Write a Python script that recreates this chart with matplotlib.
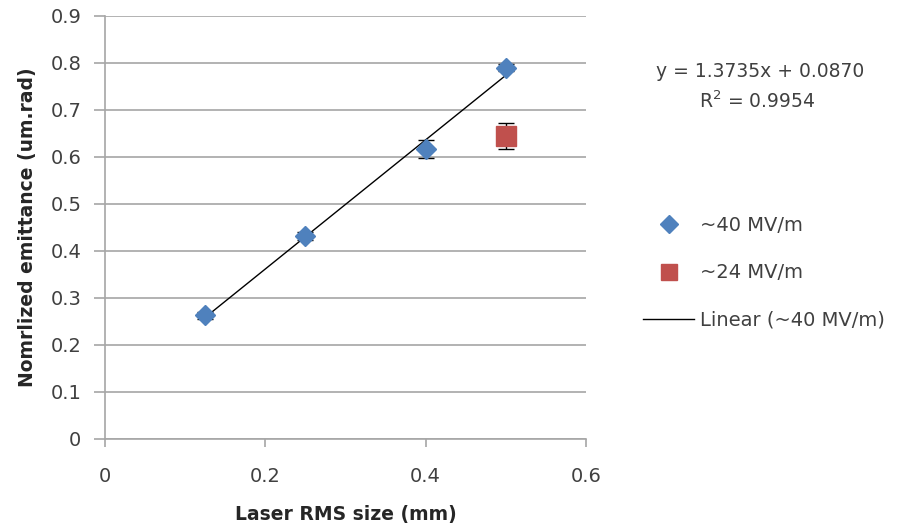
import numpy as np
import matplotlib.pyplot as plt
from matplotlib.lines import Line2D

plt.rcParams['font.family'] = ['DejaVu Sans']

# Laser RMS size (mm) vs normalized emittance (um.rad)
size_40 = [0.125, 0.25, 0.4, 0.5]
emit_40 = [0.263, 0.432, 0.617, 0.790]
err_40 = [0.008, 0.008, 0.020, 0.008]

size_24 = [0.5]
emit_24 = [0.645]
err_24 = [0.028]

slope = 1.3735
intercept = 0.0870
r2 = 0.9954

fig = plt.figure(figsize=(9.07, 5.31), dpi=100)
ax = fig.add_axes([0.1158, 0.1733, 0.5303, 0.7967])

grid_c = '#a6a6a6'
ax.set_xlim(0, 0.6)
ax.set_ylim(0, 0.9)
ax.set_xticks(np.arange(0, 0.61, 0.2))
ax.set_xticklabels(['0', '0.2', '0.4', '0.6'])
ax.set_yticks(np.arange(0, 0.91, 0.1))
ax.set_yticklabels(['0'] + ['%.1f' % v for v in np.arange(0.1, 0.91, 0.1)])
ax.yaxis.grid(True, color=grid_c, lw=1.2)
ax.set_axisbelow(True)
for s in ['top', 'right']:
    ax.spines[s].set_visible(False)
for s in ['left', 'bottom']:
    ax.spines[s].set_color(grid_c)
    ax.spines[s].set_linewidth(1.2)
ax.tick_params(colors=grid_c, width=1.2, labelsize=14, labelcolor='#404040')
ax.tick_params(axis='y', length=8, pad=9)
ax.tick_params(axis='x', length=6, pad=14)

ax.set_xlabel('Laser RMS size (mm)', fontsize=13.5, fontweight='bold',
              color='#262626', labelpad=14)
ax.set_ylabel('Nomrlized emittance (um.rad)', fontsize=13.5, fontweight='bold',
              color='#262626', labelpad=10)

# linear trendline across the ~40 MV/m points
xf = np.array([min(size_40), max(size_40)])
ax.plot(xf, slope * xf + intercept, color='black', lw=1, zorder=2)

ax.errorbar(size_40, emit_40, yerr=err_40, fmt='none', ecolor='black',
            elinewidth=1, capsize=6, capthick=1, zorder=3)
ax.plot(size_40, emit_40, 'D', color='#4f81bd', markersize=10, zorder=4)
ax.errorbar(size_24, emit_24, yerr=err_24, fmt='none', ecolor='black',
            elinewidth=1, capsize=6, capthick=1, zorder=3)
ax.plot(size_24, emit_24, 's', color='#c0504d', markersize=14, zorder=4)

fig.text(0.838, 0.865, 'y = %.4fx + %.4f' % (slope, intercept),
         ha='center', va='center', fontsize=13.5, color='#404040')
fig.text(0.835, 0.81, 'R$^2$ = %.4f' % r2,
         ha='center', va='center', fontsize=13.5, color='#404040')

handles = [Line2D([], [], marker='D', ls='none', color='#4f81bd', markersize=9),
           Line2D([], [], marker='s', ls='none', color='#c0504d', markersize=11),
           Line2D([], [], color='black', lw=1)]
labels = ['~40 MV/m', '~24 MV/m', 'Linear (~40 MV/m)']
fig.legend(handles, labels, loc='center left', bbox_to_anchor=(0.69, 0.486),
           frameon=False, fontsize=14, labelspacing=1.45, handlelength=2.6,
           handletextpad=0.3, labelcolor='#404040')

fig.savefig('out.png', dpi=100)
